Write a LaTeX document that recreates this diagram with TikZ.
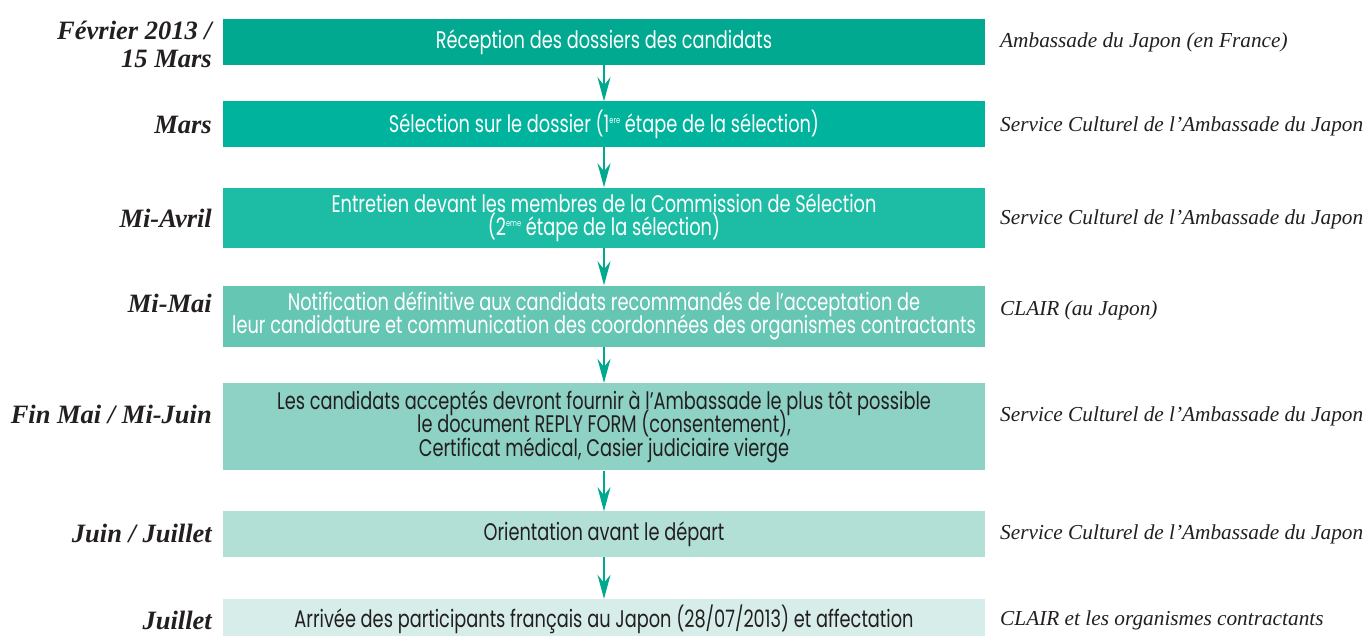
\documentclass[tikz,border=0pt]{standalone}
\usepackage{fontspec}
\usetikzlibrary{arrows.meta}
\setmainfont{Liberation Serif}
\newfontfamily\boxfont[FakeStretch=0.74]{Poppins}
\definecolor{c1}{HTML}{00A98F}
\definecolor{c2}{HTML}{00B39C}
\definecolor{c3}{HTML}{1DBDA5}
\definecolor{c4}{HTML}{66C6B4}
\definecolor{c5}{HTML}{8ED1C5}
\definecolor{c6}{HTML}{B2DFD6}
\definecolor{c7}{HTML}{D6EDE9}
\definecolor{arrc}{HTML}{00A88E}
\definecolor{ink}{HTML}{231F20}
\tikzset{
  stepbox/.style={minimum width=762pt, inner sep=0pt, align=center,
    font=\boxfont\fontsize{24}{23.5}\selectfont,
    execute at begin node={\setlength{\lineskiplimit}{-50pt}}},
  datelbl/.style={anchor=east, align=right, inner sep=0pt, text=ink,
    font=\bfseries\itshape\fontsize{26.5}{28}\selectfont},
  orglbl/.style={anchor=west, inner sep=0pt, text=ink,
    font=\itshape\fontsize{21.3}{22}\selectfont},
  arr/.style={draw=arrc, line width=2pt,
    -{Stealth[length=24pt, width=13pt, inset=8pt]}, shorten >=0pt},
}
\newcommand{\sups}[1]{\raisebox{0.7ex}{\fontsize{9}{9}\selectfont #1}}
\begin{document}
\begin{tikzpicture}[x=1pt, y=-1pt]
\useasboundingbox (0,0) rectangle (1367,635);
\clip (0,0) rectangle (1367,635);
% boxes
\node[stepbox, fill=c1, text=white, minimum height=45.7pt] (b1) at (604,42.3)
  {Réception des dossiers des candidats};
\node[stepbox, fill=c2, text=white, minimum height=45.7pt] (b2) at (604,124.3)
  {Sélection sur le dossier (1\sups{ere} étape de la sélection)};
\node[stepbox, fill=c3, text=white, minimum height=60pt] (b3) at (604,217.5)
  {Entretien devant les membres de la Commission de Sélection\\(2\sups{eme} étape de la sélection)};
\node[stepbox, fill=c4, text=white, minimum height=61pt] (b4) at (604,316)
  {Notification définitive aux candidats recommandés de l’acceptation de\\leur candidature et communication des coordonnées des organismes contractants};
\node[stepbox, fill=c5, text=ink, minimum height=87.3pt] (b5) at (604,426.8)
  {Les candidats acceptés devront fournir à l’Ambassade le plus tôt possible\\le document REPLY FORM (consentement),\\Certificat médical, Casier judiciaire vierge};
\node[stepbox, fill=c6, text=ink, minimum height=45.7pt] (b6) at (604,534.3)
  {Orientation avant le départ};
\node[stepbox, fill=c7, text=ink, minimum height=40pt] (b7) at (604,619)
  {Arrivée des participants français au Japon (28/07/2013) et affectation};
% arrows
\draw[arr] (b1) -- (b2);
\draw[arr] (b2) -- (b3);
\draw[arr] (b3) -- (b4);
\draw[arr] (b4) -- (b5);
\draw[arr] (b5) -- (b6);
\draw[arr] (b6) -- (b7);
% date labels
\node[datelbl] (d1) at (212,44) {Février 2013 /\\15 Mars};
\node[datelbl] (d2) at (212,125) {Mars};
\node[datelbl] (d3) at (212,218) {Mi-Avril};
\node[datelbl] (d4) at (212,303) {Mi-Mai};
\node[datelbl] (d5) at (212,414) {Fin Mai / Mi-Juin};
\node[datelbl] (d6) at (212,533) {Juin / Juillet};
\node[datelbl] (d7) at (212,620) {Juillet};
% organisation labels
\node[orglbl] (o1) at (1000,42) {Ambassade du Japon (en France)};
\node[orglbl] (o2) at (1000,126) {Service Culturel de l’Ambassade du Japon};
\node[orglbl] (o3) at (1000,219) {Service Culturel de l’Ambassade du Japon};
\node[orglbl] (o4) at (1000,310) {CLAIR (au Japon)};
\node[orglbl] (o5) at (1000,416) {Service Culturel de l’Ambassade du Japon};
\node[orglbl] (o6) at (1000,534) {Service Culturel de l’Ambassade du Japon};
\node[orglbl] (o7) at (1000,620) {CLAIR et les organismes contractants};
\end{tikzpicture}
\end{document}
